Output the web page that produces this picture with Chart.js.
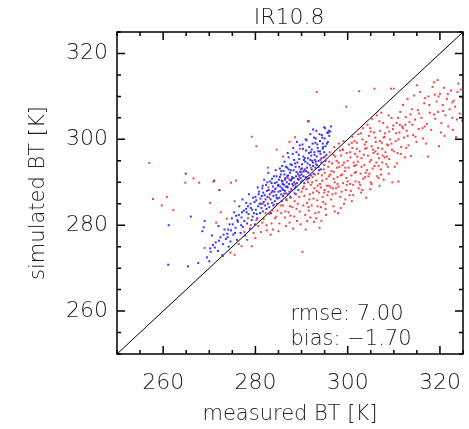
<!DOCTYPE html>
<html>
<head>
<meta charset="utf-8">
<script src="https://cdn.jsdelivr.net/npm/chart.js@4.4.1/dist/chart.umd.min.js"></script>
<style>
  html, body { margin: 0; padding: 0; background: #fff; }
  #wrap { width: 469px; height: 429px; }
</style>
</head>
<body>
<div id="wrap"><canvas id="c" width="469" height="429"></canvas></div>
<script>
const chartTitle = 'IR10.8';
const xTitle = 'measured BT [K]';
const yTitle = 'simulated BT [K]';
const axisMin = 250;
const axisMax = 325;
const tickLabels = [260, 280, 300, 320];
const statsLines = ['rmse: 7.00', 'bias: \u22121.70'];
const diagonal = [[250, 250], [325, 325]];

// simulated vs measured, blue group (above the 1:1 line)
const bluePoints = [
  [261.1,270.8],[261.2,280.0],[265.4,270.4],[266.0,282.0],[264.9,292.0],[267.6,271.2],[268.8,279.5],[269.0,281.0],[268.5,278.6],
  [269.5,272.5],[270.0,271.6],[270.3,273.8],[270.8,275.4],[271.1,290.4],[272.2,288.2],[271.4,276.0],[271.9,274.0],[272.4,277.2],
  [272.8,273.0],[273.0,275.6],[273.3,279.0],[273.6,276.8],[273.9,278.0],[274.2,275.0],[274.4,280.2],[272.0,279.8],[270.6,277.6],
  [274.6,276.2],[274.9,281.6],[275.2,277.8],[275.4,283.0],[275.7,279.4],[276.0,276.6],[276.2,280.8],[276.5,284.4],[276.8,278.2],
  [277.0,281.8],[277.3,279.6],[277.5,283.4],[277.8,277.6],[278.0,285.2],[278.2,280.4],[278.5,282.6],[278.8,279.2],[279.0,284.0],
  [279.2,281.2],[279.5,286.4],[279.7,282.8],[279.9,280.2],[275.8,282.2],[277.2,286.0],[278.6,287.2],[276.4,282.4],[279.3,283.6],
  [278.1,283.0],[274.7,278.8],[277.6,281.0],
  [280.1,283.6],[280.2,285.8],[280.4,281.6],[280.6,284.4],[280.8,287.8],[281.0,282.8],[281.1,286.2],[281.3,284.0],[281.5,288.6],
  [281.6,283.2],[281.8,285.4],[282.0,287.0],[282.1,284.6],[282.3,289.4],[282.4,283.8],[282.6,286.6],[282.7,285.0],[282.9,288.2],
  [283.0,284.2],[283.2,290.2],[283.3,286.0],[283.5,287.6],[283.6,285.2],[283.8,289.0],[283.9,286.8],[284.0,291.4],[284.2,285.6],
  [284.3,288.4],[284.5,287.0],[284.6,290.0],[284.8,286.2],[284.9,289.2],[280.5,288.8],[281.9,290.6],[282.8,292.2],[283.4,282.8],
  [284.4,292.8],[281.4,286.8],[282.5,288.0],[283.7,288.0],[280.9,285.0],[284.7,284.9],
  [285.0,287.8],[285.1,290.6],[285.2,286.4],[285.4,289.0],[285.5,291.8],[285.6,287.2],[285.8,288.6],[285.9,290.2],[286.0,286.8],
  [286.1,292.6],[286.2,289.4],[286.4,288.0],[286.5,291.0],[286.6,287.4],[286.8,290.0],[286.9,293.4],[287.0,288.8],[287.1,291.6],
  [287.3,289.6],[287.4,287.8],[287.5,292.2],[287.7,290.4],[287.8,288.4],[287.9,294.0],[288.0,291.2],[288.2,289.2],[288.3,292.8],
  [288.4,290.0],[288.6,288.6],[288.7,293.6],[288.8,291.4],[289.0,289.8],[289.1,294.6],[289.2,292.0],[289.4,290.6],[289.5,295.4],
  [289.6,291.6],[289.8,293.0],[289.9,290.0],[285.3,293.2],[286.3,294.8],[287.2,295.8],[288.1,296.6],[288.9,297.0],[285.7,285.6],
  [286.7,286.0],[287.6,286.6],[288.5,287.4],[289.3,288.2],[285.9,289.6],[286.9,289.0],[287.9,290.8],[288.8,289.0],[289.7,292.4],
  [287.2,293.0],[286.4,290.6],[285.4,288.0],
  [290.0,291.8],[290.1,294.2],[290.2,290.4],[290.4,296.0],[290.5,292.6],[290.6,289.8],[290.8,294.8],[290.9,291.2],[291.0,297.4],
  [291.2,293.4],[291.3,290.8],[291.4,295.6],[291.5,292.2],[291.7,298.2],[291.8,294.0],[292.0,291.6],[292.1,296.2],[292.2,293.0],
  [292.4,299.0],[292.5,294.6],[292.6,292.0],[292.8,297.0],[292.9,295.2],[293.0,293.4],[293.1,300.2],[293.3,296.0],[293.4,294.0],
  [293.5,298.0],[293.7,295.0],[293.8,292.8],[294.0,299.6],[294.1,296.6],[294.3,294.6],[294.4,301.0],[294.6,297.8],[294.8,295.8],
  [295.0,300.2],[295.2,298.4],[295.4,296.4],[295.6,301.6],[295.7,299.4],[296.0,300.8],[296.4,303.0],[295.7,301.5],[292.5,302.3],
  [291.4,304.2],[290.3,297.8],[291.1,299.8],[289.6,298.6],[293.2,302.0],[294.9,302.8],[294.2,293.0],[293.6,297.2],[292.3,295.0],
  [291.6,296.8],[290.7,293.0],
  [283.1,287.2],[283.5,289.8],[283.9,284.6],[284.1,287.8],[284.6,286.4],[285.0,289.4],[285.3,291.2],[285.7,290.4],[286.0,288.2],
  [286.3,291.8],[286.6,289.0],[286.9,291.4],[287.1,287.2],[287.4,290.6],[287.7,292.8],[288.0,289.6],[288.3,291.0],[288.6,294.4],
  [288.9,292.4],[289.2,290.8],[289.5,293.6],[289.8,291.0],[290.1,293.2],[290.4,291.4],[290.7,295.6],[291.0,292.6],[291.3,294.4],
  [291.6,291.0],[291.9,295.2],[292.2,297.6],[292.5,293.8],[292.8,296.4],[293.1,294.8],[293.4,298.8],[293.7,293.6],[294.0,297.2],
  [294.3,295.6],[294.6,299.0],[294.9,297.0],[295.2,295.0],[295.5,299.0],[295.9,302.0],[296.2,301.8],[295.1,302.6],[294.5,300.4],
  [293.9,301.2],[292.7,300.4],[291.9,301.2],[290.9,300.0],[290.2,298.8],[289.4,296.4],[288.4,295.2],[287.6,294.2],[286.6,293.6],
  [285.6,292.6],[284.6,291.4],[283.6,290.8],[282.6,290.0],[281.6,289.2],[280.7,287.2],[279.8,285.4],[278.9,285.0],[278.0,283.8],
  [277.1,283.0],[276.1,281.2],[275.1,280.2],[274.1,279.0],[273.1,277.8],[272.1,276.4],[271.2,274.8],[270.2,274.6],[280.3,282.6],
  [281.2,285.0],[282.2,286.0],[281.7,287.6],[280.0,286.6],[278.4,284.4],[279.4,282.0],[276.9,280.0],[275.6,278.2],[274.0,277.2],
  [284.2,289.8],[285.8,293.8],[287.0,296.8],[288.2,298.0],[289.0,299.4],[292.0,297.0],[293.0,299.2],[294.7,298.2],[290.5,295.2]
];

// red group (mostly below the 1:1 line)
const redPoints = [
  [250.0,290.8],[257.0,294.5],[257.8,286.1],[259.7,284.6],[260.8,286.6],[262.2,283.5],[264.8,289.9],[266.6,290.9],[267.8,289.9],
  [269.0,274.7],[270.2,285.2],[270.9,290.1],[273.0,272.8],[274.7,289.9],[275.8,290.4],[275.5,285.6],[275.5,273.1],[272.5,283.0],
  [271.5,280.6],[273.8,281.5],[274.6,273.6],
  [279.2,300.6],[280.2,298.4],[284.6,297.6],[282.7,293.4],[286.0,296.0],[288.6,300.5],[289.7,297.8],[291.6,304.2],[293.3,311.0],
  [287.4,299.4],
  [276.4,275.6],[277.0,275.1],[277.6,278.4],[278.2,276.6],[279.2,275.1],[279.6,278.2],[280.0,277.0],[280.6,279.8],[281.2,278.4],
  [281.8,281.4],[282.4,280.0],[283.0,282.6],[283.3,277.8],[283.8,279.0],[284.2,281.6],[284.8,283.4],[285.2,280.4],[285.6,282.8],
  [286.0,284.6],[286.4,281.8],[286.8,285.8],[287.2,283.0],[287.6,286.4],[288.0,284.2],[288.4,282.0],[288.8,287.2],[289.2,285.0],
  [289.6,283.2],[290.0,287.8],[290.2,273.8],[283.0,286.4],[284.4,288.6],[285.8,290.2],[287.0,291.0],[281.6,285.0],[282.8,288.8],
  [286.2,287.4],[287.8,288.0],[288.6,289.6],[289.4,291.4],[280.2,281.2],[279.0,280.0],[278.4,281.6],[285.0,278.6],[286.6,279.8],
  [287.4,280.6],[288.2,279.2],[289.0,281.0],[289.8,280.2],[284.0,284.8],[287.6,282.2],[288.9,283.8],[283.7,283.4],[282.2,282.8],
  [290.4,284.6],[290.6,286.8],[290.8,282.4],[291.0,288.4],[291.2,285.2],[291.4,290.0],[291.6,283.4],[291.8,287.2],[292.0,289.4],
  [292.2,284.6],[292.4,291.2],[292.6,286.2],[292.8,288.6],[293.0,282.8],[293.2,290.4],[293.4,285.8],[293.6,292.0],[293.8,287.6],
  [293.9,279.4],[294.0,289.6],[294.2,284.2],[294.4,291.6],[294.6,286.6],[294.8,293.0],[295.0,288.2],[295.2,285.0],[295.4,290.8],
  [295.6,287.0],[295.8,293.6],[296.0,289.2],[296.2,291.8],[296.4,286.0],[296.6,294.4],[296.8,288.6],[297.0,292.4],[297.2,290.0],
  [297.4,287.4],[297.6,295.0],[297.8,291.2],[298.0,289.0],[298.2,293.6],[298.4,286.6],[298.6,296.2],[298.8,291.8],[299.0,289.8],
  [299.2,294.6],[299.4,292.6],[299.6,288.2],[299.8,296.8],[290.5,289.0],[291.3,292.4],[292.1,293.4],[293.1,294.2],[294.1,295.2],
  [295.1,296.0],[296.1,297.0],[297.1,298.2],[298.1,299.0],[299.1,299.6],[291.9,281.8],[293.7,283.0],[295.3,282.4],[296.9,284.4],
  [298.5,284.0],[299.5,286.0],[290.9,279.0],[292.7,280.8],[294.3,281.0],[297.9,282.8],[295.9,291.4],[297.7,293.4],[298.9,294.0],
  [294.9,287.6],[293.3,288.0],[296.3,288.8],[299.7,291.0],[292.3,290.0],[291.7,286.0],[290.1,292.4],[297.3,296.0],[298.3,297.4],
  [300.0,290.2],[300.2,293.4],[300.4,287.0],[300.6,295.8],[300.8,291.6],[301.0,298.0],[301.2,289.4],[301.4,293.8],[301.6,296.6],
  [301.7,290.2],[301.8,292.4],[302.0,299.2],[302.2,294.8],[302.4,288.6],[302.5,311.2],[302.6,297.2],[302.8,292.0],[303.0,295.6],
  [303.2,300.0],[303.4,290.8],[303.6,294.0],[303.8,297.8],[304.0,286.4],[304.2,292.8],[304.4,296.2],[304.6,300.8],[304.8,294.8],
  [305.0,290.0],[305.2,298.4],[305.4,293.2],[305.6,296.8],[305.8,311.8],[306.0,300.4],[306.2,294.6],[306.4,291.4],[306.6,298.0],
  [306.8,295.6],[307.0,302.0],[307.2,293.0],[307.4,299.2],[307.6,296.2],[307.8,290.6],[308.0,300.6],[308.2,297.0],[308.4,294.2],
  [308.6,302.8],[308.8,298.6],[309.0,295.4],[309.2,300.0],[309.4,311.8],[309.6,297.6],[309.7,290.0],[309.9,303.2],[300.5,297.0],
  [301.5,299.6],[302.3,301.2],[303.3,302.6],[304.3,303.4],[305.3,304.8],[306.3,305.6],[307.3,306.2],[299.7,307.6],[300.9,285.6],
  [302.9,287.6],[304.9,288.4],[306.9,289.2],[308.9,292.0],[301.3,294.6],[303.7,298.8],[305.7,301.6],[307.7,303.8],[309.5,305.0],
  [302.1,296.0],[304.1,298.0],[306.1,299.4],[308.1,301.4],[300.3,298.8],[305.1,295.2],[303.9,292.2],[307.5,297.8],[306.7,293.8],
  [308.5,298.8],
  [310.2,293.6],[310.4,299.6],[310.6,303.8],[310.8,296.8],[311.0,290.2],[311.2,301.6],[311.4,306.4],[311.6,298.2],[311.8,303.0],
  [312.0,308.0],[312.2,300.4],[312.4,295.8],[312.6,305.2],[312.8,302.0],[313.0,309.4],[313.2,298.6],[313.4,304.0],[313.7,296.1],
  [313.9,307.0],[314.2,301.0],[314.4,310.2],[314.6,304.6],[314.9,299.4],[315.2,306.8],[315.4,302.4],[315.7,311.0],[316.0,305.0],
  [316.3,300.2],[316.6,308.4],[317.0,299.0],[317.2,303.6],[317.5,310.0],[317.8,306.2],[318.1,302.2],[318.4,312.2],[318.7,313.3],
  [319.0,304.8],[319.3,308.8],[319.6,306.4],[319.8,298.4],[320.0,310.6],[320.3,303.8],[320.6,308.0],[320.9,312.0],[321.2,305.6],
  [321.5,309.4],[321.8,303.0],[322.1,307.0],[322.4,311.4],[322.7,305.0],[323.0,309.0],[323.3,307.6],[323.5,300.5],[323.8,311.0],
  [324.0,313.0],[324.3,306.0],[324.6,309.8],[324.8,304.4],[310.0,311.8],[315.0,312.6],[319.5,313.8],[316.8,309.6],[318.9,310.4],
  [321.0,300.8],[322.8,302.2],[310.9,305.0],[313.6,305.8],[317.4,296.0],
  [293.5,289.2],[294.5,290.4],[295.5,289.2],[296.5,292.6],[297.5,288.6],[298.5,291.6],[299.5,293.4],[300.5,289.6],[301.5,292.2],
  [302.5,290.0],[303.5,296.4],[304.5,291.4],[305.5,297.6],[306.5,296.6],[307.5,294.6],[308.5,296.0],[309.5,299.0],[310.5,301.4],
  [311.5,296.6],[312.5,303.4],[295.0,292.2],[296.0,294.8],[297.0,290.8],[298.0,294.6],[299.0,297.6],[300.0,295.0],[301.0,300.6],
  [302.0,297.8],[303.0,293.6],[304.0,299.4],[305.0,301.8],[306.0,297.2],[307.0,299.6],[308.0,295.8],[309.0,301.8],[310.0,297.2],
  [311.0,300.0],[312.0,302.6],[294.2,288.8],[295.8,287.8],[297.8,289.6],[299.8,289.4],[301.8,294.0],[303.8,291.2],[305.8,293.8],
  [307.8,300.4],[309.8,302.4],[291.5,284.2],[292.5,287.6],[293.5,284.4],[294.7,285.4],[296.7,287.2],[298.7,287.8],[300.7,288.0],
  [302.7,289.4],[304.7,292.0],[306.7,291.0],[308.7,293.6],[310.7,294.4],[312.7,298.0],[314.7,300.6],[316.7,303.0],[318.7,305.8],
  [320.7,306.6],[322.7,308.6],[324.5,311.6],[315.5,306.0],[317.7,308.0],[319.7,310.0],[321.7,310.6],[323.7,304.6],[314.0,303.4],
  [313.0,300.8],[311.3,303.4],[316.2,302.6],[320.2,301.6],[289.5,286.6],[288.5,285.6],[287.5,284.4],[286.5,283.2],[285.5,284.6],
  [284.5,282.0],[283.5,280.4],[282.5,278.8],[281.5,280.6],[290.3,288.6],[291.1,290.6],[292.9,291.8],[294.9,294.0],[296.9,296.4],
  [298.9,297.6],[300.9,299.2],[302.9,301.4],[304.9,302.6],[306.9,304.2],[308.9,305.6],[291.2,281.0],[293.2,281.6],[295.2,283.8],
  [297.2,283.2],[299.2,285.0],[301.2,287.0],[303.2,288.2],[305.2,289.6],[307.2,291.8]
];

const FONT = "'DejaVu Sans', sans-serif";
const toXY = (arr) => arr.map(([x, y]) => ({ x, y }));

// IDL style frame: box on all four sides, ticks pointing inward
const framePlugin = {
  id: 'frame',
  afterDatasetsDraw(chart) {
    const { ctx, chartArea: a, scales } = chart;
    ctx.save();
    ctx.strokeStyle = '#000';
    ctx.lineWidth = 1.5;
    ctx.strokeRect(a.left, a.top, a.right - a.left, a.bottom - a.top);
    for (let v = axisMin; v <= axisMax; v += 5) {
      const len = tickLabels.includes(v) ? 8 : 4;
      const px = scales.x.getPixelForValue(v);
      const py = scales.y.getPixelForValue(v);
      ctx.beginPath();
      ctx.moveTo(px, a.bottom); ctx.lineTo(px, a.bottom - len);
      ctx.moveTo(px, a.top); ctx.lineTo(px, a.top + len);
      ctx.moveTo(a.left, py); ctx.lineTo(a.left + len, py);
      ctx.moveTo(a.right, py); ctx.lineTo(a.right - len, py);
      ctx.stroke();
    }
    ctx.fillStyle = '#222';
    ctx.font = '200 22px ' + FONT;
    ctx.textAlign = 'center';
    ctx.textBaseline = 'middle';
    ctx.fillText(chartTitle, scales.x.getPixelForValue(287.3), a.top - 14);
    ctx.font = '200 21px ' + FONT;
    ctx.textAlign = 'left';
    ctx.fillText(statsLines[0], scales.x.getPixelForValue(287.6), scales.y.getPixelForValue(259.2));
    ctx.fillText(statsLines[1], scales.x.getPixelForValue(287.6), scales.y.getPixelForValue(253.3));
    ctx.restore();
  },
};

const labelFont = (size) => ({ family: FONT, size, weight: 200 });

new Chart(document.getElementById('c'), {
  type: 'scatter',
  data: {
    datasets: [
      {
        label: 'red',
        data: toXY(redPoints),
        backgroundColor: 'rgba(255,30,30,0.85)',
        borderWidth: 0,
        pointRadius: 1.4,
        pointStyle: 'rect',
      },
      {
        label: 'blue',
        data: toXY(bluePoints),
        backgroundColor: 'rgba(30,30,255,0.9)',
        borderWidth: 0,
        pointRadius: 1.4,
        pointStyle: 'rect',
      },
      {
        label: '1:1',
        data: toXY(diagonal),
        showLine: true,
        borderColor: '#000',
        borderWidth: 1,
        pointRadius: 0,
      },
    ],
  },
  options: {
    responsive: false,
    animation: false,
    layout: { padding: { top: 32, right: 6, left: 0, bottom: 0 } },
    plugins: {
      legend: { display: false },
      tooltip: { enabled: false },
    },
    scales: {
      x: {
        type: 'linear',
        min: axisMin,
        max: axisMax,
        afterBuildTicks: (s) => { s.ticks = tickLabels.map((v) => ({ value: v })); },
        afterFit: (s) => { s.height = 75; s.paddingLeft = 0; s.paddingRight = 0; },
        grid: { display: false, drawTicks: false },
        border: { display: false },
        ticks: { color: '#222', font: labelFont(22), padding: 16, maxRotation: 0 },
        title: { display: true, text: xTitle, color: '#222', font: labelFont(21), padding: { top: 0, bottom: 2 } },
      },
      y: {
        type: 'linear',
        min: axisMin,
        max: axisMax,
        afterBuildTicks: (s) => { s.ticks = tickLabels.map((v) => ({ value: v })); },
        afterFit: (s) => { s.width = 117; s.paddingTop = 0; s.paddingBottom = 0; },
        grid: { display: false, drawTicks: false },
        border: { display: false },
        ticks: { color: '#222', font: labelFont(22), padding: 9 },
        title: { display: true, text: yTitle, color: '#222', font: labelFont(21), padding: { top: 26, bottom: 0 } },
      },
    },
  },
  plugins: [framePlugin],
});
</script>
</body>
</html>
